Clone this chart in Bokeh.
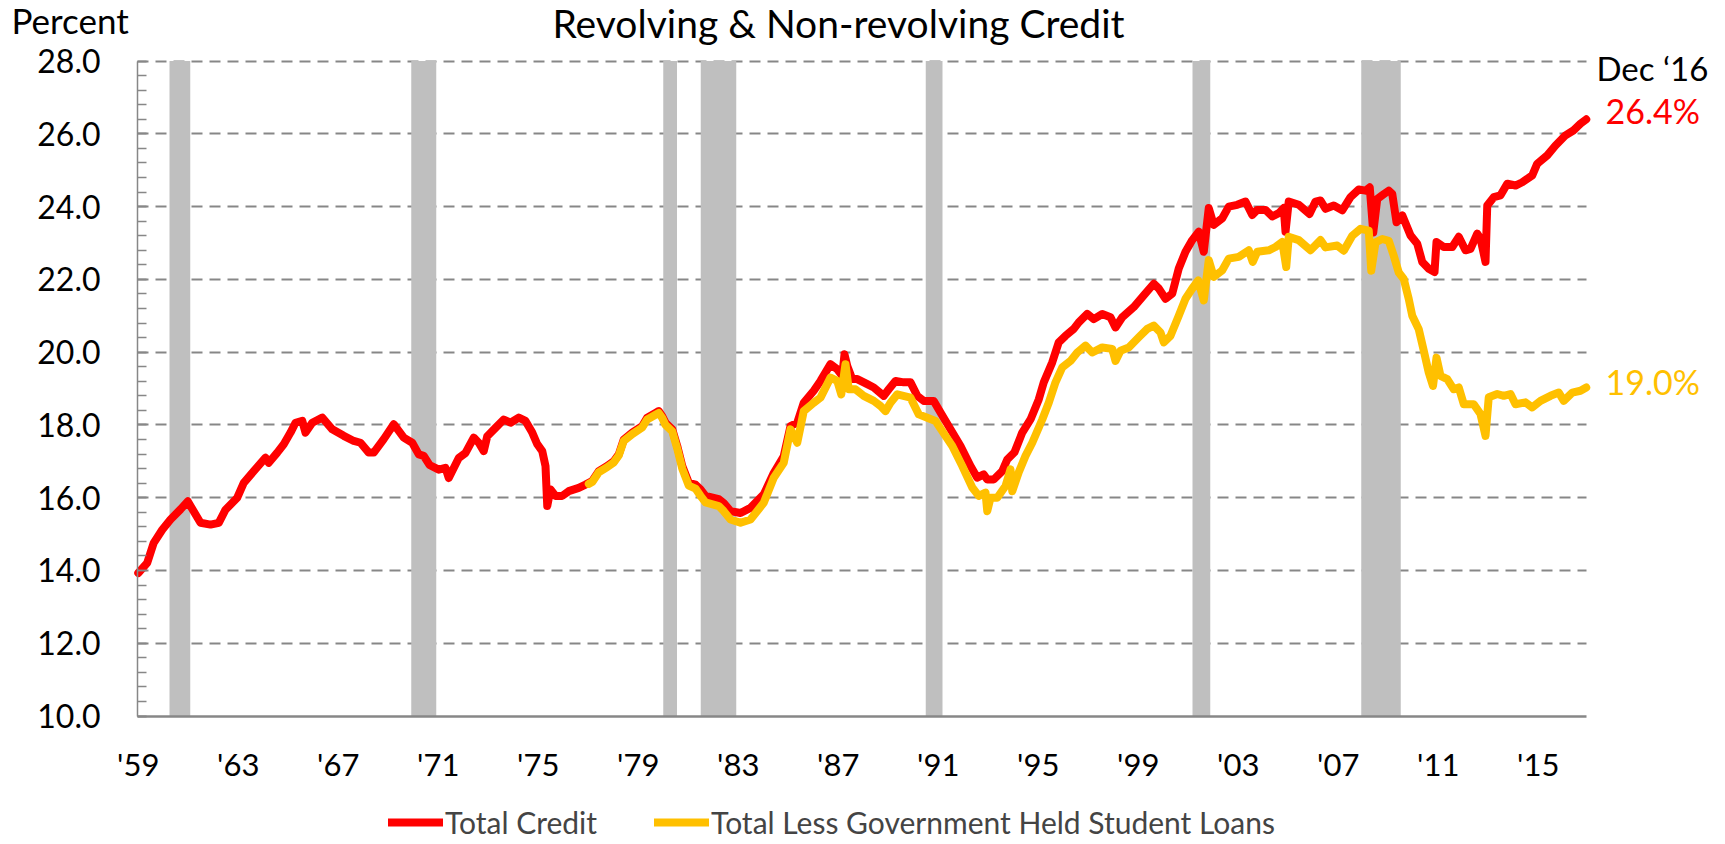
from bokeh.plotting import figure
from bokeh.models import (Range1d, FixedTicker, SingleIntervalTicker, Legend, LegendItem,
                          NumeralTickFormatter, LinearAxis, Grid)
from bokeh.core.properties import value
from bokeh.embed import file_html
from bokeh.resources import INLINE

# ---------------- data ----------------
total_years = [1959.00, 1959.36, 1959.62, 1959.96, 1960.29, 1960.69, 1960.98, 1961.49, 1961.89, 1962.22,
               1962.49, 1962.96, 1963.22, 1963.62, 1964.09, 1964.22, 1964.56, 1964.82, 1965.09, 1965.29,
               1965.56, 1965.69, 1965.96, 1966.36, 1966.76, 1967.22, 1967.62, 1967.89, 1968.22, 1968.42,
               1968.82, 1969.22, 1969.62, 1969.96, 1970.22, 1970.42, 1970.65, 1971.02, 1971.29, 1971.42,
               1971.82, 1972.09, 1972.42, 1972.62, 1972.82, 1972.96, 1973.29, 1973.62, 1973.89, 1974.22,
               1974.49, 1974.76, 1974.96, 1975.16, 1975.29, 1975.36, 1975.49, 1975.69, 1975.96, 1976.22,
               1976.62, 1976.89, 1977.16, 1977.42, 1977.76, 1978.02, 1978.22, 1978.42, 1978.76, 1979.16,
               1979.36, 1979.69, 1979.82, 1979.96, 1980.09, 1980.36, 1980.56, 1980.76, 1981.02, 1981.29,
               1981.49, 1981.69, 1982.22, 1982.42, 1982.69, 1983.09, 1983.49, 1984.02, 1984.42, 1984.82,
               1985.09, 1985.36, 1985.62, 1986.02, 1986.29, 1986.69, 1986.96, 1987.16, 1987.25, 1987.36,
               1987.56, 1987.76, 1988.16, 1988.42, 1988.82, 1989.02, 1989.29, 1989.62, 1989.89, 1990.16,
               1990.42, 1990.82, 1991.09, 1991.49, 1991.89, 1992.29, 1992.56, 1992.82, 1992.96, 1993.22,
               1993.56, 1993.76, 1994.05, 1994.36, 1994.69, 1995.02, 1995.22, 1995.56, 1995.82, 1996.09,
               1996.42, 1996.62, 1996.96, 1997.22, 1997.56, 1997.89, 1998.09, 1998.36, 1998.82, 1999.22,
               1999.62, 1999.82, 2000.09, 2000.36, 2000.62, 2000.89, 2001.16, 2001.42, 2001.62, 2001.82,
               2002.02, 2002.36, 2002.62, 2002.96, 2003.29, 2003.56, 2003.76, 2004.09, 2004.36, 2004.62,
               2004.82, 2004.89, 2005.02, 2005.42, 2005.85, 2006.09, 2006.29, 2006.49, 2006.82, 2007.16,
               2007.49, 2007.82, 2008.09, 2008.26, 2008.40, 2008.56, 2008.76, 2009.02, 2009.16, 2009.33,
               2009.56, 2009.89, 2010.16, 2010.36, 2010.62, 2010.85, 2010.93, 2011.22, 2011.56, 2011.82,
               2012.09, 2012.29, 2012.56, 2012.69, 2012.89, 2012.96, 2013.22, 2013.49, 2013.76, 2014.09,
               2014.36, 2014.76, 2014.96, 2015.36, 2015.69, 2016.09, 2016.42, 2016.69, 2016.92]
total_credit = [13.93, 14.21, 14.76, 15.12, 15.40, 15.68, 15.90, 15.31, 15.26, 15.31,
                15.67, 16.00, 16.41, 16.73, 17.10, 16.96, 17.24, 17.47, 17.79, 18.06,
                18.11, 17.79, 18.06, 18.20, 17.88, 17.70, 17.56, 17.51, 17.24, 17.24,
                17.61, 18.02, 17.65, 17.51, 17.19, 17.15, 16.90, 16.77, 16.82, 16.54,
                17.09, 17.23, 17.65, 17.51, 17.28, 17.69, 17.92, 18.15, 18.06, 18.20,
                18.11, 17.79, 17.47, 17.28, 16.87, 15.77, 16.23, 16.05, 16.05, 16.18,
                16.27, 16.36, 16.46, 16.73, 16.87, 17.00, 17.19, 17.60, 17.79, 17.97,
                18.20, 18.33, 18.38, 18.24, 18.06, 17.88, 17.42, 16.87, 16.41, 16.36,
                16.23, 16.05, 15.96, 15.85, 15.63, 15.58, 15.72, 16.09, 16.68, 17.14,
                17.97, 18.06, 18.61, 18.94, 19.21, 19.67, 19.53, 19.35, 19.94, 19.62,
                19.26, 19.26, 19.12, 19.03, 18.80, 18.98, 19.21, 19.17, 19.17, 18.80,
                18.66, 18.66, 18.34, 17.88, 17.42, 16.87, 16.55, 16.64, 16.50, 16.50,
                16.73, 17.05, 17.25, 17.79, 18.15, 18.70, 19.17, 19.72, 20.27, 20.45,
                20.64, 20.82, 21.05, 20.91, 21.05, 20.96, 20.68, 20.96, 21.24, 21.56,
                21.88, 21.75, 21.47, 21.61, 22.30, 22.76, 23.08, 23.31, 22.76, 23.96,
                23.50, 23.68, 24.00, 24.05, 24.14, 23.77, 23.91, 23.91, 23.73, 23.82,
                23.96, 23.31, 24.14, 24.05, 23.80, 24.14, 24.17, 23.94, 24.03, 23.90,
                24.26, 24.47, 24.44, 24.53, 23.29, 24.21, 24.31, 24.44, 24.35, 23.57,
                23.76, 23.21, 22.98, 22.48, 22.29, 22.20, 23.03, 22.89, 22.89, 23.17,
                22.80, 22.84, 23.26, 23.12, 22.48, 24.03, 24.26, 24.31, 24.63, 24.58,
                24.67, 24.86, 25.18, 25.41, 25.68, 25.96, 26.10, 26.28, 26.40]

less_years = [1977.02, 1977.16, 1977.42, 1977.76, 1978.02, 1978.22, 1978.42, 1978.76, 1979.16, 1979.36,
              1979.69, 1979.82, 1979.96, 1980.09, 1980.36, 1980.56, 1980.76, 1981.02, 1981.29, 1981.49,
              1981.69, 1982.22, 1982.42, 1982.69, 1983.09, 1983.49, 1984.02, 1984.42, 1984.82, 1985.09,
              1985.36, 1985.62, 1986.02, 1986.29, 1986.69, 1986.96, 1987.12, 1987.29, 1987.42, 1987.69,
              1988.02, 1988.42, 1988.69, 1988.89, 1989.09, 1989.36, 1989.89, 1990.22, 1990.56, 1990.89,
              1991.16, 1991.56, 1991.96, 1992.36, 1992.62, 1992.89, 1992.96, 1993.09, 1993.36, 1993.69,
              1993.89, 1993.96, 1994.22, 1994.49, 1994.76, 1995.16, 1995.42, 1995.69, 1995.96, 1996.29,
              1996.56, 1996.89, 1997.16, 1997.56, 1997.96, 1998.09, 1998.29, 1998.62, 1999.02, 1999.36,
              1999.62, 1999.89, 2000.02, 2000.29, 2000.62, 2000.89, 2001.16, 2001.40, 2001.62, 2001.82,
              2002.02, 2002.36, 2002.62, 2003.02, 2003.42, 2003.58, 2003.76, 2004.22, 2004.49, 2004.76,
              2004.92, 2005.02, 2005.42, 2005.89, 2006.29, 2006.49, 2006.96, 2007.22, 2007.56, 2007.89,
              2008.22, 2008.32, 2008.49, 2008.76, 2009.02, 2009.22, 2009.42, 2009.62, 2009.82, 2009.96,
              2010.22, 2010.42, 2010.62, 2010.79, 2010.93, 2011.09, 2011.36, 2011.62, 2011.82, 2012.02,
              2012.42, 2012.69, 2012.89, 2013.02, 2013.36, 2013.62, 2013.89, 2014.09, 2014.49, 2014.76,
              2015.09, 2015.49, 2015.82, 2016.02, 2016.36, 2016.69, 2016.92]
less_student_loans = [16.38, 16.43, 16.70, 16.84, 16.97, 17.16, 17.56, 17.75, 17.93, 18.15,
                      18.28, 18.33, 18.19, 18.00, 17.82, 17.35, 16.80, 16.33, 16.25, 16.05,
                      15.87, 15.77, 15.63, 15.40, 15.31, 15.40, 15.86, 16.55, 16.96, 17.88,
                      17.51, 18.38, 18.61, 18.75, 19.30, 19.21, 18.84, 19.67, 18.98, 18.98,
                      18.80, 18.66, 18.52, 18.38, 18.61, 18.84, 18.75, 18.29, 18.20, 18.11,
                      17.83, 17.42, 16.87, 16.28, 16.05, 16.14, 15.63, 16.00, 16.00, 16.32,
                      16.78, 16.18, 16.70, 17.15, 17.51, 18.15, 18.61, 19.17, 19.58, 19.76,
                      19.99, 20.18, 19.99, 20.13, 20.09, 19.76, 20.04, 20.13, 20.41, 20.64,
                      20.73, 20.54, 20.27, 20.45, 21.00, 21.47, 21.75, 21.97, 21.42, 22.53,
                      22.07, 22.25, 22.57, 22.62, 22.80, 22.48, 22.76, 22.80, 22.89, 23.03,
                      22.34, 23.17, 23.08, 22.80, 23.08, 22.88, 22.93, 22.79, 23.20, 23.39,
                      23.34, 22.24, 23.02, 23.11, 23.06, 22.65, 22.19, 22.01, 21.46, 21.00,
                      20.63, 20.04, 19.44, 19.07, 19.85, 19.35, 19.26, 18.98, 19.03, 18.57,
                      18.57, 18.30, 17.70, 18.76, 18.85, 18.80, 18.85, 18.57, 18.62, 18.48,
                      18.66, 18.80, 18.89, 18.66, 18.89, 18.94, 19.03]

recession_start = [1960.25, 1969.92, 1980.00, 1981.50, 1990.50, 2001.17, 2007.92]
recession_end = [1961.08, 1970.92, 1980.55, 1982.92, 1991.17, 2001.88, 2009.50]

tick_years = [1959, 1963, 1967, 1971, 1975, 1979, 1983, 1987, 1991, 1995, 1999, 2003, 2007, 2011, 2015]
tick_labels = ["'59", "'63", "'67", "'71", "'75", "'79", "'83", "'87", "'91", "'95", "'99", "'03", "'07", "'11", "'15"]

series_names = ["Total Credit", "Total Less Government Held Student Loans"]
end_labels = ["26.4%", "19.0%"]
title_text = "Revolving & Non-revolving Credit"
unit_text = "Percent"
date_text = "Dec \u201816"

FONT = "Lato"
RED = "#FF0000"
GOLD = "#FFC000"
GRAY = "#878787"
BAR = "#BFBFBF"

# ---------------- geometry (plot area in canvas pixels) ----------------
W, H = 1720, 840
X_START, X_END = 1958.97, 2016.93        # data extent of the plot area
Y_MIN, Y_MAX = 10.0, 28.0
AREA_LEFT, AREA_RIGHT = 137.0, 1586.0     # canvas px
AREA_TOP, AREA_BOTTOM = 60.6, 715.5       # canvas px
px_per_x = (AREA_RIGHT - AREA_LEFT) / (X_END - X_START)
px_per_y = (AREA_BOTTOM - AREA_TOP) / (Y_MAX - Y_MIN)
x_lo = X_START - AREA_LEFT / px_per_x
x_hi = x_lo + W / px_per_x
y_hi = Y_MAX + AREA_TOP / px_per_y
y_lo = y_hi - H / px_per_y


def cx(px):  # canvas px -> data x
    return x_lo + px / px_per_x


def cy(py):  # canvas px (from top) -> data y
    return y_hi - py / px_per_y


p = figure(width=W, height=H, output_backend="svg", toolbar_location=None,
           x_range=Range1d(x_lo, x_hi), y_range=Range1d(y_lo, y_hi),
           x_axis_location=None, y_axis_location=None,
           min_border=0, min_border_left=0, min_border_right=0,
           min_border_top=0, min_border_bottom=0)
p.outline_line_color = None
p.grid.visible = False

# horizontal dashed grid
y_ticker = SingleIntervalTicker(interval=2, num_minor_ticks=5)
grid_values = list(range(12, 29, 2))
try:
    ygrid = Grid(dimension=1, ticker=SingleIntervalTicker(interval=2), grid_line_color=GRAY,
                 grid_line_dash="11 7", grid_line_width=2, bounds=(12, 28))
    ygrid.cross_bounds = (X_START, X_END)
    p.add_layout(ygrid)
except Exception:
    p.segment(x0=X_START, x1=X_END, y0=grid_values, y1=grid_values, line_color=GRAY,
              line_dash="11 7", line_width=2, level="underlay")

# y axis
yaxis = LinearAxis(fixed_location=X_START, bounds=(Y_MIN, Y_MAX), ticker=y_ticker,
                   formatter=NumeralTickFormatter(format="0.0"))
yaxis.axis_line_color = GRAY
yaxis.axis_line_width = 1.5
yaxis.major_tick_in = 9
yaxis.major_tick_out = 0
yaxis.minor_tick_in = 9
yaxis.minor_tick_out = 0
yaxis.major_tick_line_color = GRAY
yaxis.minor_tick_line_color = GRAY
yaxis.major_tick_line_width = 1.5
yaxis.minor_tick_line_width = 1.5
yaxis.major_label_text_font = FONT
yaxis.major_label_text_font_size = "32px"
yaxis.major_label_text_color = "black"
yaxis.major_label_standoff = 37
p.add_layout(yaxis, "left")

# x axis
xaxis = LinearAxis(fixed_location=Y_MIN, bounds=(X_START, X_END), ticker=FixedTicker(ticks=tick_years))
xaxis.major_label_overrides = {y: l for y, l in zip(tick_years, tick_labels)}
xaxis.axis_line_color = GRAY
xaxis.axis_line_width = 2.5
xaxis.major_tick_in = 0
xaxis.major_tick_out = 0
xaxis.minor_tick_line_color = None
xaxis.major_label_text_font = FONT
xaxis.major_label_text_font_size = "31px"
xaxis.major_label_text_color = "black"
xaxis.major_label_standoff = 29
p.add_layout(xaxis, "below")

# recession bars
p.quad(left=recession_start, right=recession_end, bottom=Y_MIN, top=Y_MAX,
       fill_color=BAR, line_color=None)

# lines
r_total = p.line(total_years, total_credit, line_color=RED, line_width=8,
                 line_join="round", line_cap="round")
r_less = p.line(less_years, less_student_loans, line_color=GOLD, line_width=8,
                line_join="round", line_cap="round")

legend = Legend(items=[LegendItem(label=series_names[0], renderers=[r_total]),
                       LegendItem(label=series_names[1], renderers=[r_less])],
                orientation="horizontal", location=(388, 0),
                glyph_width=55, glyph_height=20, label_standoff=2, spacing=57,
                padding=0, margin=0, border_line_color=None, background_fill_alpha=0,
                label_text_font=FONT, label_text_font_size="30px")
p.add_layout(legend, "center")

# texts (baselines given in canvas px)
p.text(x=[cx(838)], y=[cy(22)], text=[title_text], text_align="center",
       text_baseline="alphabetic", text_font=value(FONT), text_font_size=value("39px"),
       text_color="black")
p.text(x=[cx(11)], y=[cy(19)], text=[unit_text], text_align="left",
       text_baseline="alphabetic", text_font=value(FONT), text_font_size=value("35px"),
       text_color="black")
p.text(x=[cx(1596)], y=[cy(67)], text=[date_text], text_align="left",
       text_baseline="alphabetic", text_font=value(FONT), text_font_size=value("33px"),
       text_color="black")
p.text(x=[cx(1605), cx(1605)], y=[cy(110), cy(381)], text=end_labels, text_align="left",
       text_baseline="alphabetic", text_font=value(FONT), text_font_size=value("34px"),
       text_color=[RED, GOLD])

open("out.html", "w").write(file_html(p, INLINE))
